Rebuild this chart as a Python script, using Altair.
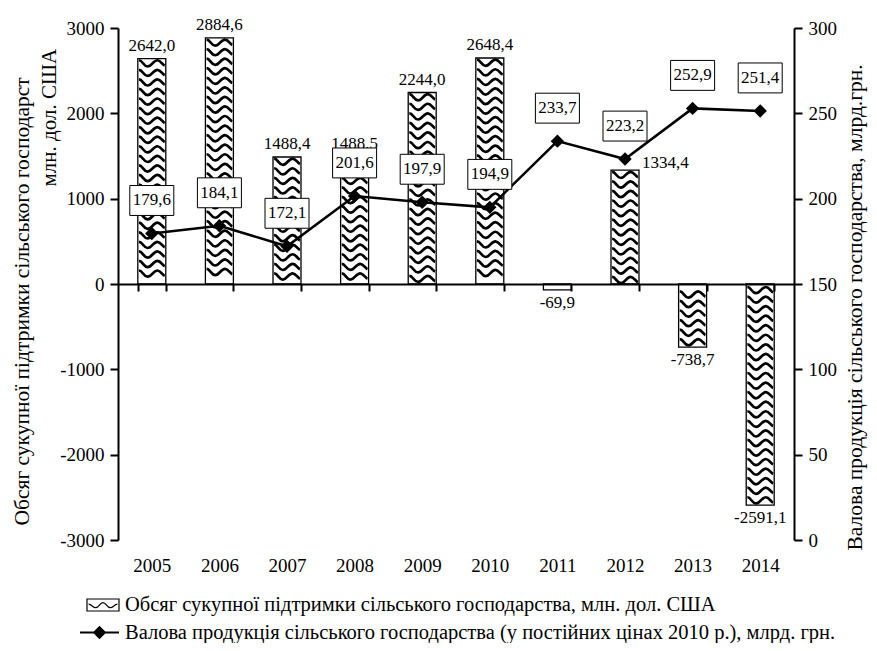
import altair as alt
import pandas as pd

years = ["2005", "2006", "2007", "2008", "2009", "2010", "2011", "2012", "2013", "2014"]
support = [2642.0, 2884.6, 1488.4, 1488.5, 2244.0, 2648.4, -69.9, 1334.4, -738.7, -2591.1]
gross = [179.6, 184.1, 172.1, 201.6, 197.9, 194.9, 233.7, 223.2, 252.9, 251.4]

s1 = "Обсяг сукупної підтримки сільського господарства, млн. дол. США"
s2 = "Валова продукція сільського господарства (у постійних цінах 2010 р.), млрд. грн."
left_title_1 = "Обсяг сукупної підтримки сільського господарст"
left_title_2 = "млн. дол. США"
right_title = "Валова продукція сільського господарства, млрд.грн."

FONT = "Liberation Serif"

def fmt(v):
    return f"{v:.1f}".replace(".", ",")

bars = pd.DataFrame({"year": years, "v": support, "s": s1,
                     "lbl": [fmt(v) for v in support]})
line = pd.DataFrame({"year": years, "g": gross, "s": s2,
                     "lbl": [fmt(v) for v in gross]})

# pattern rows inside each bar (derived from the bar values)
step = 112.0
rows = []
for y, v in zip(years, support):
    sign = 1 if v >= 0 else -1
    pos = abs(v) - step / 2
    while pos > step * 0.3:
        rows.append({"year": y, "p": sign * pos})
        pos -= step
pattern = pd.DataFrame(rows)

x_scale = alt.Scale(paddingInner=0.586, paddingOuter=0.293)
yl_scale = alt.Scale(domain=[-3000, 3000], nice=False, zero=False)
yr_scale = alt.Scale(domain=[0, 300], nice=False, zero=False)

x_enc = alt.X("year:N", scale=x_scale, sort=years,
              axis=alt.Axis(title=None, offset=-256, tickBand="extent", tickSize=7,
                            labelPadding=265, labelAngle=0, labelFontSize=19,
                            domainWidth=2, tickWidth=2, zindex=1))

wave = ("M-0.92,-0.22 C-0.65,-0.22 -0.6,0.22 -0.3,0.22 C0,0.22 0.1,-0.22 0.4,-0.22 "
        "C0.65,-0.22 0.75,0.1 0.92,0.16")
swatch = ("M-1,-0.375 H1 V0.375 H-1 Z "
          "M-0.9,-0.05 C-0.7,-0.05 -0.65,0.17 -0.45,0.17 C-0.25,0.17 -0.2,-0.15 0,-0.15 "
          "C0.2,-0.15 0.25,0.17 0.45,0.17 C0.65,0.17 0.7,-0.05 0.9,-0.05")
line_sym = "M-1,0 H1 M-0.27,0 L0,-0.27 L0.27,0 L0,0.27 Z"
box = "M-1,-0.68 H1 V0.68 H-1 Z"

left_axis = alt.Axis(values=[-3000, -2000, -1000, 0, 1000, 2000, 3000],
                     labelExpr="'' + datum.value", tickSize=8, labelPadding=6,
                     title=left_title_1, titleFontSize=21.5,
                     titleAngle=270, titleAlign="left", titleBaseline="middle",
                     titleX=-96, titleY=497, domainWidth=2, tickWidth=2, zindex=1)

bar_layer = alt.Chart(bars).mark_bar(stroke="black", strokeWidth=1.3).encode(
    x=x_enc,
    y=alt.Y("v:Q", scale=yl_scale, axis=left_axis),
    fill=alt.Fill("s:N", scale=alt.Scale(range=["white"]),
                  legend=alt.Legend(title=None, orient="none", legendX=-32, legendY=560,
                                    symbolType=swatch, symbolSize=1024,
                                    symbolStrokeColor="black", symbolStrokeWidth=1.2,
                                    labelOffset=5, labelLimit=2000, padding=0)),
)

pattern_layer = alt.Chart(pattern).mark_point(
    shape=wave, filled=False, stroke="black", strokeWidth=2.7, size=784, opacity=1
).encode(x=alt.X("year:N", sort=years), y=alt.Y("p:Q", scale=yl_scale, axis=left_axis))

group_a = alt.layer(bar_layer, pattern_layer)

# bar value labels (own left axis carrying the second title line)
lbl_axis = alt.Axis(orient="left", labels=False, ticks=False, domain=False, grid=False,
                    title=left_title_2, titleFontSize=21, titleAngle=270,
                    titleAlign="left", titleBaseline="middle", titleX=-69, titleY=158)
pos_lbl = alt.Chart(bars).transform_filter(
    "datum.v >= 0 && datum.year != '2012'"
).mark_text(baseline="bottom", dy=-4, fontSize=17, font=FONT, color="black").encode(
    x=alt.X("year:N", sort=years), y=alt.Y("v:Q", scale=yl_scale, axis=lbl_axis),
    text="lbl:N")
neg_lbl = alt.Chart(bars).transform_filter("datum.v < 0").mark_text(
    baseline="top", dy=5, fontSize=17, font=FONT, color="black").encode(
    x=alt.X("year:N", sort=years), y=alt.Y("v:Q", scale=yl_scale, axis=lbl_axis),
    text="lbl:N")
side_lbl = alt.Chart(bars).transform_filter("datum.year == '2012'").mark_text(
    baseline="middle", align="left", dx=17, dy=-7, fontSize=17, font=FONT,
    color="black").encode(
    x=alt.X("year:N", sort=years), y=alt.Y("v:Q", scale=yl_scale, axis=lbl_axis),
    text="lbl:N")
group_c = alt.layer(pos_lbl, neg_lbl, side_lbl)

right_axis = alt.Axis(orient="right", values=[0, 50, 100, 150, 200, 250, 300],
                      tickSize=8, labelPadding=6, title=right_title, titleFontSize=21.5,
                      titleAngle=270, titleAlign="left", titleBaseline="middle",
                      titleX=61, titleY=522, domainWidth=2, tickWidth=2, zindex=1)
line_layer = alt.Chart(line).mark_line(strokeWidth=2.5).encode(
    x=alt.X("year:N", sort=years),
    y=alt.Y("g:Q", scale=yr_scale, axis=right_axis),
    stroke=alt.Stroke("s:N", scale=alt.Scale(range=["black"]),
                      legend=alt.Legend(title=None, orient="none", legendX=-39, legendY=584,
                                        symbolType=line_sym, symbolSize=1521,
                                        symbolStrokeWidth=2, symbolFillColor="black",
                                        labelOffset=5, labelLimit=2000, padding=0)),
)
dia = alt.Chart(line).mark_point(shape="diamond", filled=True, color="black",
                                 size=180, opacity=1).encode(
    x=alt.X("year:N", sort=years), y=alt.Y("g:Q", scale=yr_scale, axis=right_axis))
boxes = alt.Chart(line).mark_point(shape=box, filled=True, fill="white", stroke="black",
                                   strokeWidth=1, size=1936, opacity=1, yOffset=-33).encode(
    x=alt.X("year:N", sort=years), y=alt.Y("g:Q", scale=yr_scale, axis=right_axis))
box_txt = alt.Chart(line).mark_text(yOffset=-33, baseline="middle", fontSize=17,
                                    font=FONT, color="black").encode(
    x=alt.X("year:N", sort=years), y=alt.Y("g:Q", scale=yr_scale, axis=right_axis),
    text="lbl:N")

group_b = alt.layer(line_layer, dia, boxes, box_txt)

chart = alt.layer(group_a, group_c, group_b).resolve_scale(y="independent").properties(
    width=676, height=512,
    autosize=alt.AutoSizeParams(type="none"),
    padding={"left": 110, "top": 20, "right": 75, "bottom": 103},
).configure(font=FONT).configure_axis(
    labelFont=FONT, titleFont=FONT, labelFontSize=19, titleFontSize=19,
    labelColor="black", titleColor="black", domainColor="black", tickColor="black",
    grid=False, titleFontWeight="normal",
).configure_legend(
    labelFont=FONT, labelFontSize=20.5, labelColor="black",
).configure_view(stroke=None)

chart.save("out.html", embed_options={"renderer": "svg", "actions": False})
